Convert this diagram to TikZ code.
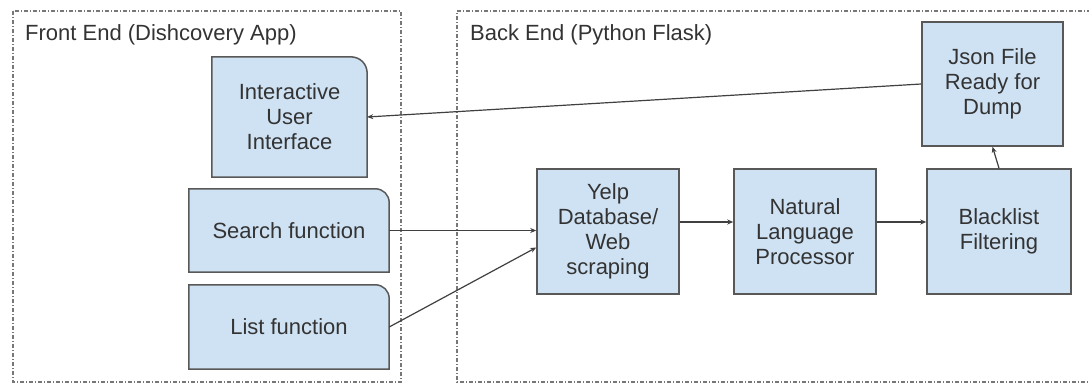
\documentclass[tikz,border=0pt]{standalone}
\usepackage{fontspec}
\setmainfont{Liberation Sans}
\usetikzlibrary{arrows.meta,backgrounds}
\definecolor{boxfill}{HTML}{CFE2F3}
\definecolor{boxline}{HTML}{585858}
\definecolor{txt}{HTML}{333333}
\definecolor{connc}{HTML}{404040}
\definecolor{cont}{HTML}{777777}
\begin{document}
\begin{tikzpicture}[x=1pt,y=-1pt,
  lbl/.style={font=\fontsize{22}{25}\selectfont, text=txt, align=center, inner sep=0pt},
  sqbox/.style={lbl, draw=boxline, fill=boxfill, line width=1.5pt, minimum width=142pt, minimum height=125pt},
  rbox/.style={draw=boxline, fill=boxfill, line width=1.5pt},
  conn/.style={draw=connc, line width=1.2pt, -{Stealth[length=6pt,width=5pt]}},
  container/.style={draw=cont, line width=1.3pt, dash pattern=on 4pt off 2pt on 1pt off 2pt}]
\useasboundingbox (0,0) rectangle (1089,385);

% titles
\node[lbl, anchor=west] (fe) at (25,35) {Front End (Dishcovery App)};
\node[lbl, anchor=west] (be) at (470,35) {Back End (Python Flask)};

% front end nodes (rounded top-right drawn on background)
\node[lbl, minimum width=155pt, minimum height=120pt] (ui) at (289.5,117) {Interactive\\User\\Interface};
\node[lbl, minimum width=200pt, minimum height=83pt] (search) at (289,230.5) {Search function};
\node[lbl, minimum width=200pt, minimum height=84pt] (list) at (289,327) {List function};

% back end nodes
\node[sqbox] (yelp) at (608,231.5) {Yelp\\Database/\\Web\\scraping};
\node[sqbox] (nlp) at (805,231.5) {Natural\\Language\\Processor};
\node[sqbox, minimum width=144pt] (black) at (999,231.5) {Blacklist\\Filtering};
\node[sqbox, minimum width=141pt, minimum height=124pt] (json) at (992.5,84) {Json File\\Ready for\\Dump};

\begin{scope}[on background layer]
  \fill[white] (0,0) rectangle (1089,385);
  \begin{scope}
    \clip (0,0) rectangle (1089,385);
    \draw[container] (13,11) rectangle (401,382);
    \draw[container] (1100,11) -- (457,11) -- (457,382) -- (1100,382);
  \end{scope}
  \draw[rbox] (ui.south west) -- (ui.north west) -- ([xshift=-17pt]ui.north east)
    .. controls ([xshift=-7pt]ui.north east) and ([yshift=-7pt]ui.north east) .. ([yshift=-17pt]ui.north east)
    -- (ui.south east) -- cycle;
  \draw[rbox] (search.south west) -- (search.north west) -- ([xshift=-14pt]search.north east)
    .. controls ([xshift=-6pt]search.north east) and ([yshift=-6pt]search.north east) .. ([yshift=-14pt]search.north east)
    -- (search.south east) -- cycle;
  \draw[rbox] (list.south west) -- (list.north west) -- ([xshift=-14pt]list.north east)
    .. controls ([xshift=-6pt]list.north east) and ([yshift=-6pt]list.north east) .. ([yshift=-14pt]list.north east)
    -- (list.south east) -- cycle;
\end{scope}

% connectors
\draw[conn] (json.west) -- (ui.east);
\draw[conn] (search.east) -- (search.east -| yelp.west);
\draw[conn] (list.east) -- ([yshift=-16pt]yelp.west);
\draw[conn] ([yshift=9.5pt]yelp.east) -- ([yshift=9.5pt]nlp.west);
\draw[conn] ([yshift=9.5pt]nlp.east) -- ([yshift=9.5pt]black.west);
\draw[conn] (black.north) -- (json.south);
\end{tikzpicture}
\end{document}
